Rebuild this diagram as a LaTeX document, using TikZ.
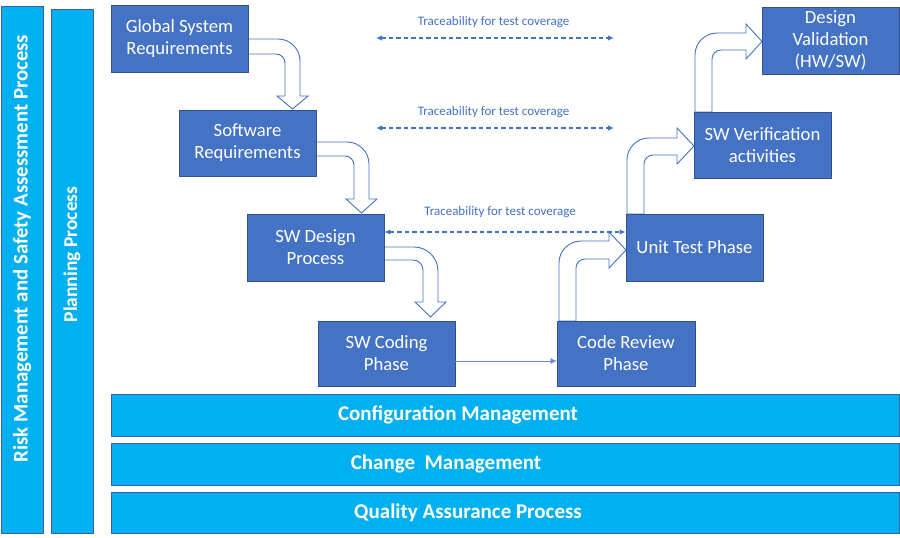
\documentclass[tikz,border=0pt]{standalone}
\usepackage{fontspec}
\setmainfont{Carlito}
\usetikzlibrary{arrows.meta}
\definecolor{boxblue}{HTML}{4472C4}
\definecolor{boxedge}{HTML}{2F528F}
\definecolor{barblue}{HTML}{00B0F0}
\definecolor{baredge}{HTML}{3B5FA8}
\begin{document}
\begin{tikzpicture}[x=1pt,y=-1pt,
  stagebox/.style={draw=boxedge, line width=0.7pt, fill=boxblue, text=white, inner sep=0pt,
    align=center, font=\fontsize{18.7}{22}\selectfont},
  barbox/.style={draw=baredge, line width=0.9pt, fill=barblue, inner sep=0pt},
  bartext/.style={text=white, inner sep=0pt, font=\bfseries\fontsize{21}{25}\selectfont},
  vtext/.style={text=white, inner sep=0pt, rotate=90, font=\bfseries\fontsize{20.8}{24}\selectfont},
  blockarrow/.style={draw=boxblue, line width=0.9pt, fill=white, line join=miter},
  trace/.style={draw=boxblue, line width=1.4pt, dash pattern=on 4.5pt off 3pt,
    {Latex[length=6pt,width=5.5pt]}-{Latex[length=6pt,width=5.5pt]}},
  tracelabel/.style={text=boxblue, inner sep=0pt, font=\fontsize{13}{15}\selectfont},
  flow/.style={draw=boxblue!80, line width=0.6pt, -{Latex[length=6pt,width=6pt]}}
]
\useasboundingbox (0,0) rectangle (900,538);
\fill[white] (0,0) rectangle (900,538);

% side bars
\node[barbox, minimum width=42pt, minimum height=527pt] (risk) at (22,269.5) {};
\node[vtext] (risktext) at (22,248.5) {Risk Management and Safety Assessment Process};
\node[barbox, minimum width=42pt, minimum height=524pt] (plan) at (72,271) {};
\node[vtext, font=\bfseries\fontsize{19.5}{24}\selectfont] (plantext) at (72,254.5) {Planning Process};

% bottom bars
\node[barbox, minimum width=788pt, minimum height=42pt] (cm) at (505,415) {};
\node[bartext] (cmtext) at (458,415) {Configuration Management};
\node[barbox, minimum width=788pt, minimum height=42pt] (chm) at (505,464) {};
\node[bartext] (chmtext) at (446,464) {Change\ \ Management};
\node[barbox, minimum width=788pt, minimum height=41pt] (qa) at (505,512.5) {};
\node[bartext] (qatext) at (468,512.5) {Quality Assurance Process};

% block arrows (drawn before boxes)
\draw[blockarrow] (248,39) -- (278,39) arc[start angle=-90,end angle=0,radius=22] -- (300,96) -- (308,96)
  -- (292.5,109) -- (277,96) -- (285,96) -- (285,63) arc[start angle=0,end angle=-90,radius=9] -- (248,54) -- cycle;
\draw[blockarrow] (316,142) -- (347,142) arc[start angle=-90,end angle=0,radius=22] -- (369,199) -- (377,199)
  -- (361.5,213) -- (346,199) -- (354,199) -- (354,165) arc[start angle=0,end angle=-90,radius=9] -- (316,156) -- cycle;
\draw[blockarrow] (384,247) -- (414,247) arc[start angle=-90,end angle=0,radius=24] -- (438,302) -- (446,302)
  -- (430.5,317) -- (415,302) -- (423,302) -- (423,270) arc[start angle=0,end angle=-90,radius=10] -- (384,260) -- cycle;
\draw[blockarrow] (559,321) -- (559,263) arc[start angle=180,end angle=270,radius=22] -- (609,241) -- (609,232)
  -- (626,250) -- (609,268) -- (609,259) -- (585,259) arc[start angle=270,end angle=180,radius=9] -- (576,321) -- cycle;
\draw[blockarrow] (627,214) -- (627,160) arc[start angle=180,end angle=270,radius=22] -- (677,138) -- (677,128)
  -- (694,146) -- (677,164) -- (677,155) -- (653,155) arc[start angle=270,end angle=180,radius=9] -- (644,214) -- cycle;
\draw[blockarrow] (695,112) -- (695,55) arc[start angle=180,end angle=270,radius=22] -- (746,33) -- (746,24)
  -- (762,41.5) -- (746,59) -- (746,50) -- (721,50) arc[start angle=270,end angle=180,radius=9] -- (712,112) -- cycle;

% stage boxes
\node[stagebox, minimum width=137pt, minimum height=67pt] (gsr) at (179.5,38.5) {Global System\\Requirements};
\node[stagebox, minimum width=137pt, minimum height=66pt] (swr) at (247.5,143) {Software\\Requirements};
\node[stagebox, minimum width=137pt, minimum height=67pt] (swd) at (315.5,247.5) {SW Design\\Process};
\node[stagebox, minimum width=137pt, minimum height=65pt] (swc) at (386.5,353.5) {SW Coding\\Phase};
\node[stagebox, minimum width=138pt, minimum height=65pt] (crp) at (626,353.5) {Code Review\\Phase};
\node[stagebox, minimum width=137pt, minimum height=67pt] (utp) at (694.5,247.5) {Unit Test Phase};
\node[stagebox, minimum width=137pt, minimum height=66pt] (svr) at (762.5,145) {SW Verification\\activities};
\node[stagebox, minimum width=137pt, minimum height=67pt] (dv) at (830.5,40.5) {Design\\Validation\\(HW/SW)};

% traceability
\coordinate (t1l) at (376,38);
\coordinate (t1r) at (614,38);
\coordinate (t2l) at (376,128);
\coordinate (t2r) at (614,128);
\draw[trace] (t1l) -- (t1r);
\node[tracelabel] (l1) at (493.5,22) {Traceability for test coverage};
\draw[trace] (t2l) -- (t2r);
\node[tracelabel] (l2) at (493.5,112.5) {Traceability for test coverage};
\draw[trace] (swd.east |- 0,232) -- (utp.west |- 0,232);
\node[tracelabel] (l3) at (500,212.5) {Traceability for test coverage};

% coding -> review
\draw[flow] (swc.east |- 0,361) -- (crp.west |- 0,361);
\end{tikzpicture}
\end{document}
